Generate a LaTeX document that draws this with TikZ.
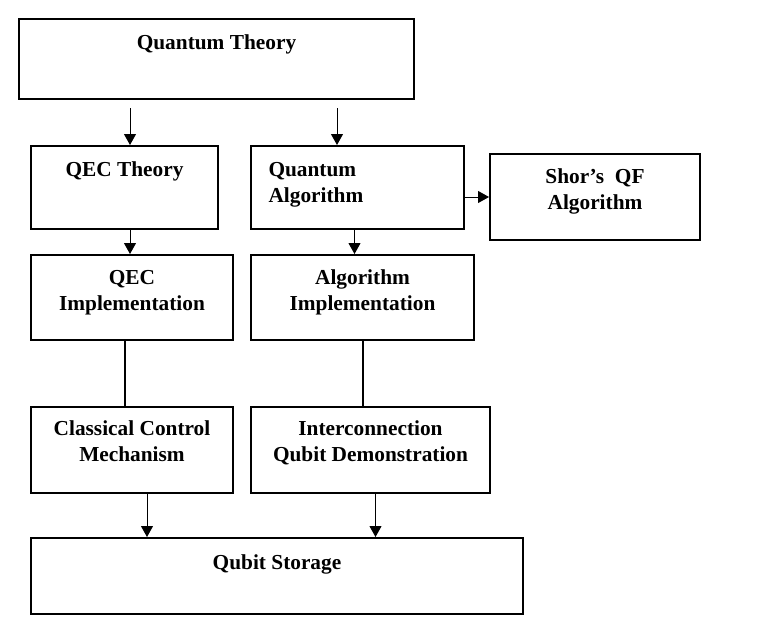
\documentclass[tikz,border=0pt]{standalone}
\usepackage{fontspec}
\setmainfont{Liberation Serif}
\usetikzlibrary{arrows.meta}

\begin{document}
\begin{tikzpicture}[x=0.75pt, y=-0.75pt,
        box/.style={draw, line width=1.5pt, anchor=north west,
                     inner xsep=0pt, inner ysep=0pt, align=center,
                     font=\fontsize{16}{19.5}\selectfont\bfseries},
        arr/.style={-{Triangle[length=8.25pt,width=9pt]}, line width=0.75pt},
        link/.style={line width=1.5pt}
      ]
        \useasboundingbox (0,0) rectangle (781,635);

        \node[box, minimum width=296.25pt, text height=23.25pt, text depth=36.75pt] (qt) at (18,18) {Quantum Theory};
        \node[box, minimum width=140.25pt, text height=22.5pt, text depth=39.75pt] (qecth) at (30,145) {QEC Theory};
        \node[box, minimum width=159.75pt, text width=133.5pt, align=left,
              text height=22.5pt, text depth=39.75pt] (qalg) at (250,145) {Quantum\\Algorithm};
        \node[box, minimum width=157.5pt, text height=41.25pt, text depth=23.25pt] (shor) at (489,153) {Shor’s~ QF\\Algorithm};
        \node[box, minimum width=151.5pt, text height=41.25pt, text depth=22.5pt] (qecimp) at (30,254) {QEC\\Implementation};
        \node[box, minimum width=167.25pt, text height=41.25pt, text depth=22.5pt] (algimp) at (250,254) {Algorithm\\Implementation};
        \node[box, minimum width=151.5pt, text height=40.5pt, text depth=24pt] (ctrl) at (30,406) {Classical Control\\Mechanism};
        \node[box, minimum width=179.25pt, text height=40.5pt, text depth=24pt] (inter) at (250,406) {Interconnection\\Qubit Demonstration};
        \node[box, minimum width=369pt, text height=23.25pt, text depth=33.75pt] (store) at (30,537) {Qubit Storage};

        % arrows out of the theory box start a little below it
        \coordinate (qtA) at (130,108);
        \coordinate (qtB) at (337,108);

        \draw[arr] (qtA) -- (qtA |- qecth.north);
        \draw[arr] (qtB) -- (qtB |- qalg.north);
        \draw[arr] (qalg.east |- shor.west) -- (shor.west);
        \draw[arr] (qecth.south -| qtA) -- (qecimp.north -| qtA);
        \draw[arr] ([xshift=-2.25pt]qalg.south) -- ([xshift=-2.25pt]qalg.south |- algimp.north);

        \draw[link] ([xshift=-5.25pt]qecimp.south) -- ([xshift=-5.25pt]qecimp.south |- ctrl.north);
        \draw[link] (algimp.south) -- (algimp.south |- inter.north);

        \draw[arr] ([xshift=11.25pt]ctrl.south) -- ([xshift=11.25pt]ctrl.south |- store.north);
        \draw[arr] ([xshift=3.75pt]inter.south) -- ([xshift=3.75pt]inter.south |- store.north);
      \end{tikzpicture}
\end{document}
